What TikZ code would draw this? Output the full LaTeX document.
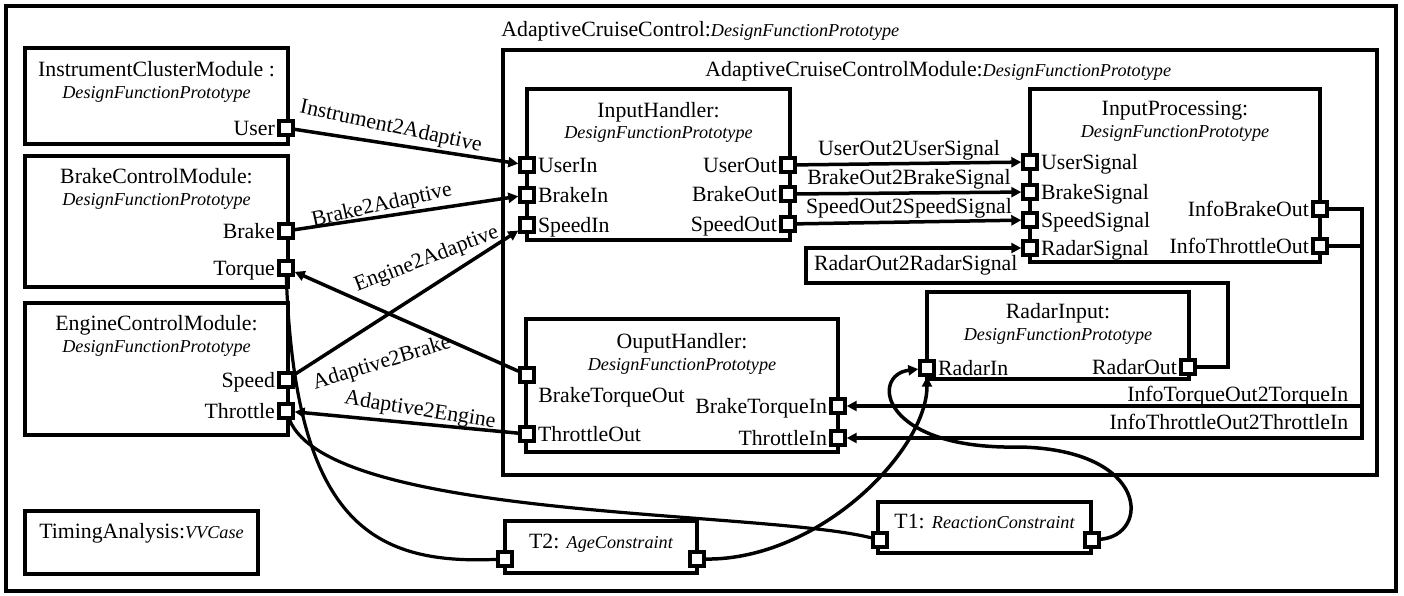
\documentclass[tikz,border=0pt]{standalone}
\usepackage{fontspec}
\setmainfont{Liberation Serif}
\usetikzlibrary{arrows.meta, positioning, fit}

\newcommand{\ity}[1]{{\fontsize{9.1pt}{11pt}\selectfont\itshape #1}}

\tikzset{
    font=\fontsize{10.9pt}{13pt}\selectfont,
    >={Triangle[length=5pt, width=5pt]},
    % Boxes
    accframe/.style={draw, line width=1.6pt, inner sep=0pt},
    blk/.style={draw, line width=2pt, inner sep=0pt},
    port/.style={rectangle, draw, fill=white, line width=1.9pt,
                 minimum size=6.8pt, inner sep=0pt},
    % Texts
    ttl/.style={anchor=base, inner sep=0pt},
    ital/.style={anchor=base, inner sep=0pt, font=\fontsize{9.1pt}{11pt}\selectfont\itshape},
    plbl/.style={inner sep=1pt, text height=7.2pt, text depth=0pt},
    lbl/.style={inner sep=1pt},
    % Connectors
    flow/.style={->, line width=1.75pt},
    link/.style={line width=1.6pt}
}

\begin{document}
\begin{tikzpicture}[x=0.5pt, y=-0.5pt]
\useasboundingbox (0,0) rectangle (1404,595);

% containers
\node[accframe, fit={(6,6) (1396,591)}] (acc) {};
\node[ttl, anchor=base west] (accT) at (501,36) {AdaptiveCruiseControl:\ity{DesignFunctionPrototype}};
\node[blk, fit={(503,50) (1377,475)}] (accm) {};
\node[ttl, anchor=base west] (accmT) at (705,76) {AdaptiveCruiseControlModule:\ity{DesignFunctionPrototype}};

% external modules
\node[blk, fit={(25,48) (288,144)}] (icm) {};
\node[ttl] (icmT) at (156.5,76) {InstrumentClusterModule :};
\node[ital] (icmS) at (156.5,98) {DesignFunctionPrototype};
\node[port, label={[plbl]left:User}] (user) at (286,128) {};

\node[blk, fit={(25,156) (288,287)}] (bcm) {};
\node[ttl] (bcmT) at (156.5,183) {BrakeControlModule:};
\node[ital] (bcmS) at (156.5,205) {DesignFunctionPrototype};
\node[port, label={[plbl]left:Brake}] (brake) at (286,231) {};
\node[port, label={[plbl]left:Torque}] (torque) at (286,268) {};

\node[blk, fit={(25,303) (288,435)}] (ecm) {};
\node[ttl] (ecmT) at (156.5,330) {EngineControlModule:};
\node[ital] (ecmS) at (156.5,352) {DesignFunctionPrototype};
\node[port, label={[plbl]left:Speed}] (speed) at (286,380) {};
\node[port, label={[plbl]left:Throttle}] (throttle) at (286,411) {};

\node[blk, fit={(25,511) (258,574)}] (tana) {};
\node[ttl] (tanaT) at (141.5,538) {TimingAnalysis:\ity{VVCase}};

% inner prototypes
\node[blk, fit={(527,89) (790,240)}] (ih) {};
\node[ttl] (ihT) at (658.5,117) {InputHandler:};
\node[ital] (ihS) at (658.5,138) {DesignFunctionPrototype};
\node[port, label={[plbl]right:UserIn}] (userin) at (527,165) {};
\node[port, label={[plbl]right:BrakeIn}] (brakein) at (527,195) {};
\node[port, label={[plbl]right:SpeedIn}] (speedin) at (527,225) {};
\node[port, label={[plbl]left:UserOut}] (userout) at (788,165) {};
\node[port, label={[plbl]left:BrakeOut}] (brakeout) at (788,194) {};
\node[port, label={[plbl]left:SpeedOut}] (speedout) at (788,224) {};

\node[blk, fit={(1030,89) (1320,262)}] (ip) {};
\node[ttl] (ipT) at (1175,115) {InputProcessing:};
\node[ital] (ipS) at (1175,137) {DesignFunctionPrototype};
\node[port, label={[plbl]right:UserSignal}] (usersig) at (1030,162) {};
\node[port, label={[plbl]right:BrakeSignal}] (brakesig) at (1030,192) {};
\node[port, label={[plbl]right:SpeedSignal}] (speedsig) at (1030,220) {};
\node[port, label={[plbl]right:RadarSignal}] (radarsig) at (1030,248) {};
\node[port, label={[plbl]left:InfoBrakeOut}] (ibo) at (1320,209) {};
\node[port, label={[plbl]left:InfoThrottleOut}] (ito) at (1320,246) {};

\node[blk, fit={(927,292) (1189,379)}] (ri) {};
\node[ttl] (riT) at (1058,318) {RadarInput:};
\node[ital] (riS) at (1058,340) {DesignFunctionPrototype};
\node[port, label={[plbl]right:RadarIn}] (radarin) at (927,368) {};
\node[port, label={[plbl]left:RadarOut}] (radarout) at (1188,367) {};

\node[blk, fit={(526,319) (838,452)}] (oh) {};
\node[ttl] (ohT) at (682,348) {OuputHandler:};
\node[ital] (ohS) at (682,370) {DesignFunctionPrototype};
\node[port] (bto) at (527,375) {};
\node[anchor=base west, inner sep=1pt] (btoL) at (536,402) {BrakeTorqueOut};
\node[port, label={[plbl]right:ThrottleOut}] (tho) at (527,434) {};
\node[port, label={[plbl]left:BrakeTorqueIn}] (bti) at (838,406) {};
\node[port, label={[plbl]left:ThrottleIn}] (thi) at (838,438) {};

% timing constraints
\node[blk, fit={(505,521) (697,573)}] (t2) {};
\node[ttl] (t2T) at (601,548) {T2: \ity{AgeConstraint}};
\node[port] (t2in) at (505,559) {};
\node[port] (t2out) at (697,559) {};

\node[blk, fit={(878,502) (1091,553)}] (t1) {};
\node[ttl] (t1T) at (984.5,528) {T1: \ity{ReactionConstraint}};
\node[port] (t1in) at (880,540) {};
\node[port] (t1out) at (1092,540) {};

% helper points for routed connectors
\coordinate (rail) at (1362,0);
\coordinate (rloopA) at (1228,283);
\coordinate (rloopB) at (806,248);
\coordinate (loopTop) at (1020,447);

% connectors into the module
\draw[flow] (user) -- node[lbl, pos=.43, yshift=8.5pt, rotate=-12] {Instrument2Adaptive} (userin);
\draw[flow] (brake) -- node[lbl, pos=.39, yshift=5.5pt, rotate=12.5] {Brake2Adaptive} (brakein);
\draw[flow] (speed) -- node[lbl, pos=.59, yshift=15pt, rotate=21] {Engine2Adaptive} (speedin);
\draw[flow] (bto) -- node[lbl, pos=.61, yshift=-26.5pt, rotate=17] {Adaptive2Brake} (torque);
\draw[flow] (tho) -- node[lbl, pos=.44, yshift=6.5pt, rotate=-9] {Adaptive2Engine} (throttle);

% internal connectors
\draw[flow] (userout) -- node[lbl, above] {UserOut2UserSignal} (usersig);
\draw[flow] (brakeout) -- node[lbl, above] {BrakeOut2BrakeSignal} (brakesig);
\draw[flow] (speedout) -- node[lbl, above] {SpeedOut2SpeedSignal} (speedsig);
\draw[flow] (radarout) -| (rloopA) -| node[lbl, pos=.37, above=2pt] {RadarOut2RadarSignal} (rloopB) -- (radarsig);
\draw[flow] (ibo) -| (rail |- bti) -- node[lbl, pos=0, anchor=base east, xshift=-5pt, yshift=2.5pt] {InfoTorqueOut2TorqueIn} (bti);
\draw[flow] (ito) -| (rail |- thi) -- node[lbl, pos=0, anchor=base east, xshift=-5pt, yshift=4.5pt] {InfoThrottleOut2ThrottleIn} (thi);

% constraint references
\draw[link] (t2in) .. controls (370,565) and (295,520) .. (torque);
\draw[link] (throttle) .. controls (330,520) and (760,510) .. (t1in);
\draw[flow] (t2out) .. controls (820,560) and (927,450) .. (radarin);
\draw[flow] (t1out) .. controls (1150,535) and (1150,450) .. (loopTop)
    .. controls (880,450) and (870,375) .. (radarin);

\end{tikzpicture}
\end{document}
